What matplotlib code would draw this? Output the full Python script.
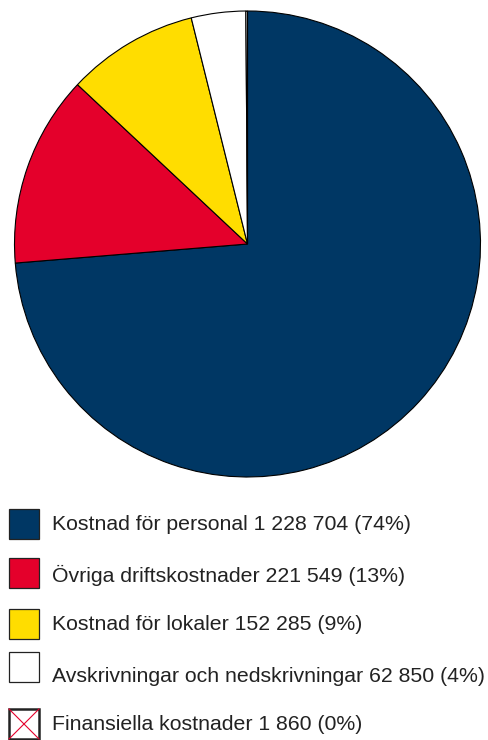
import matplotlib.pyplot as plt
from matplotlib.patches import Rectangle

# Data
labels = [
    "Kostnad för personal",
    "Övriga driftskostnader",
    "Kostnad för lokaler",
    "Avskrivningar och nedskrivningar",
    "Finansiella kostnader",
]
values = [1228704, 221549, 152285, 62850, 1860]
shares = [74, 13, 9, 4, 0]
colors = ["#003764", "#E4002B", "#FFDD00", "#FFFFFF", "#FFFFFF"]

W, H = 489, 740
fig = plt.figure(figsize=(W / 100, H / 100), dpi=100)
ax = fig.add_axes([0, 0, 1, 1])

# Pie, in pixel-like coords (y measured from bottom)
ax.pie(
    values,
    colors=colors,
    startangle=90,
    counterclock=False,
    center=(247.5, H - 244),
    radius=233,
    frame=True,
    wedgeprops=dict(edgecolor="black", linewidth=0.8),
)

# Legend drawn by hand
box_tops = [509, 558, 609, 652, 709]
text_y = [524, 575, 625, 676, 724]
for i, lab in enumerate(labels):
    y0 = H - box_tops[i] - 30
    lw = 1.8 if i == 4 else 0.9
    ax.add_patch(Rectangle((9, y0), 30, 30, facecolor=colors[i],
                           edgecolor="#222222", linewidth=lw))
    if i == 4:
        ax.plot([9, 39], [y0, y0 + 30], color="#E4002B", lw=0.8)
        ax.plot([9, 39], [y0 + 30, y0], color="#E4002B", lw=0.8)
    num = f"{values[i]:,}".replace(",", " ")
    ax.text(52, H - text_y[i], f"{lab} {num} ({shares[i]}%)",
            fontsize=15.3, family="Liberation Sans", color="#222222",
            va="center", ha="left")

ax.set_xlim(0, W)
ax.set_ylim(0, H)
ax.axis("off")

fig.savefig("out.png", dpi=100)
